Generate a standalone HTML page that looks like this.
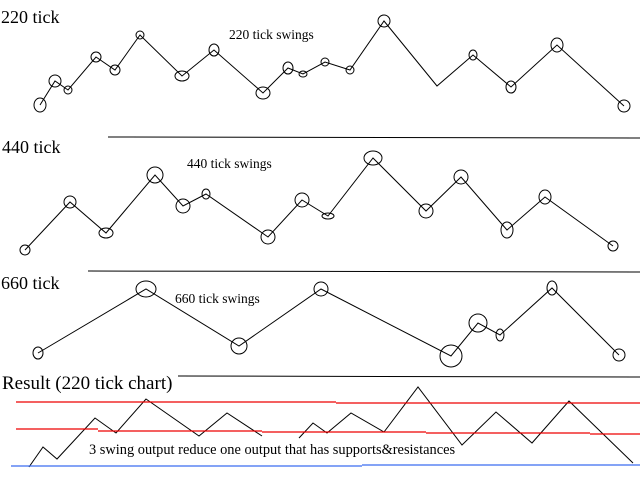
<!DOCTYPE html>
<html><head><style>body{margin:0;background:#fff}svg{display:block}</style></head>
<body>
<svg width="640" height="480" xmlns="http://www.w3.org/2000/svg" font-family="Liberation Serif, serif">
<rect width="640" height="480" fill="#fff"/>
<g fill="#000">
<text x="1" y="23" font-size="18">220 tick</text>
<text x="229" y="39" font-size="13.5">220 tick swings</text>
<text x="2" y="153" font-size="18">440 tick</text>
<text x="187" y="168" font-size="13.5">440 tick swings</text>
<text x="1" y="289" font-size="18">660 tick</text>
<text x="175" y="303" font-size="13.5">660 tick swings</text>
<text x="2" y="389" font-size="19">Result (220 tick chart)</text>
<text x="89" y="454" font-size="14.4">3 swing output reduce one output that has supports&amp;resistances</text>
</g>
<g stroke="#000" stroke-width="1" fill="none">
<line x1="108" y1="137" x2="640" y2="138"/>
<line x1="88" y1="271" x2="640" y2="272"/>
<line x1="178" y1="376" x2="640" y2="377"/>
<polyline points="40,105 55,81 68,90 96,57 115,70 140,35 182,76 214,50 263,93 288,68 303,74 325,62 350,70 384,21 437,86 473,55 511,87 557,45 624,106"/>
<g>
<ellipse cx="40" cy="105" rx="6" ry="7"/><ellipse cx="55" cy="81" rx="6" ry="6"/><ellipse cx="68" cy="90" rx="4" ry="4"/>
<ellipse cx="96" cy="57" rx="5" ry="5"/><ellipse cx="115" cy="70" rx="5" ry="5"/><ellipse cx="140" cy="35" rx="4" ry="4"/>
<ellipse cx="182" cy="76" rx="7" ry="5"/><ellipse cx="214" cy="50" rx="5" ry="6"/><ellipse cx="263" cy="93" rx="7" ry="6"/>
<ellipse cx="288" cy="68" rx="5" ry="6"/><ellipse cx="303" cy="74" rx="4" ry="3"/><ellipse cx="325" cy="62" rx="4" ry="4"/>
<ellipse cx="350" cy="70" rx="4" ry="4"/><ellipse cx="384" cy="21" rx="6" ry="6"/><ellipse cx="473" cy="55" rx="4" ry="5"/>
<ellipse cx="511" cy="87" rx="5" ry="6"/><ellipse cx="557" cy="45" rx="6" ry="7"/><ellipse cx="624" cy="106" rx="6" ry="6"/>
</g>
<polyline points="25,250 70,202 106,233 155,175 183,206 206,194 268,237 302,200 328,216 373,158 426,211 461,177 507,230 545,197 613,246"/>
<g>
<ellipse cx="25" cy="250" rx="5" ry="5"/><ellipse cx="70" cy="202" rx="6" ry="6"/><ellipse cx="106" cy="233" rx="7" ry="5"/>
<ellipse cx="155" cy="175" rx="8" ry="8"/><ellipse cx="183" cy="206" rx="7" ry="7"/><ellipse cx="206" cy="194" rx="4" ry="5"/>
<ellipse cx="268" cy="237" rx="7" ry="7"/><ellipse cx="302" cy="200" rx="7" ry="7"/><ellipse cx="328" cy="216" rx="6" ry="3"/>
<ellipse cx="373" cy="158" rx="9" ry="7"/><ellipse cx="426" cy="211" rx="7" ry="7"/><ellipse cx="461" cy="177" rx="7" ry="7"/>
<ellipse cx="507" cy="230" rx="6" ry="8"/><ellipse cx="545" cy="197" rx="6" ry="7"/><ellipse cx="613" cy="246" rx="5" ry="5"/>
</g>
<polyline points="38,353 146,289 239,346 321,289 451,356 478,323 500,335 552,288 619,355"/>
<g>
<ellipse cx="38" cy="353" rx="5" ry="6"/><ellipse cx="146" cy="289" rx="10" ry="8"/><ellipse cx="239" cy="346" rx="8" ry="8"/>
<ellipse cx="321" cy="289" rx="7" ry="7"/><ellipse cx="451" cy="356" rx="11" ry="11"/><ellipse cx="478" cy="323" rx="9" ry="9"/>
<ellipse cx="500" cy="335" rx="4" ry="6"/><ellipse cx="552" cy="288" rx="5" ry="7"/><ellipse cx="619" cy="355" rx="6" ry="6"/>
</g>
<polyline points="29,467 43,447 57,459 95,418 116,433 146,399 199,436 227,413 262,436"/>
<polyline points="299,438 313,423 327,433 351,413 384,432 418,387 462,445 496,412 532,443 569,401 633,463"/>
</g>
<g stroke="#e00" stroke-width="1.3" fill="none">
<line x1="16" y1="402" x2="336" y2="402"/><line x1="336" y1="403" x2="640" y2="403"/>
<line x1="16" y1="429" x2="98" y2="429"/><line x1="98" y1="431" x2="262" y2="431"/>
<line x1="262" y1="432" x2="426" y2="432"/><line x1="426" y1="433" x2="590" y2="433"/><line x1="590" y1="434" x2="640" y2="434"/>
</g>
<g stroke="#3a6cf0" stroke-width="1.3">
<line x1="11" y1="466" x2="362" y2="466"/><line x1="362" y1="465" x2="640" y2="465"/>
</g>
</svg>
</body></html>
